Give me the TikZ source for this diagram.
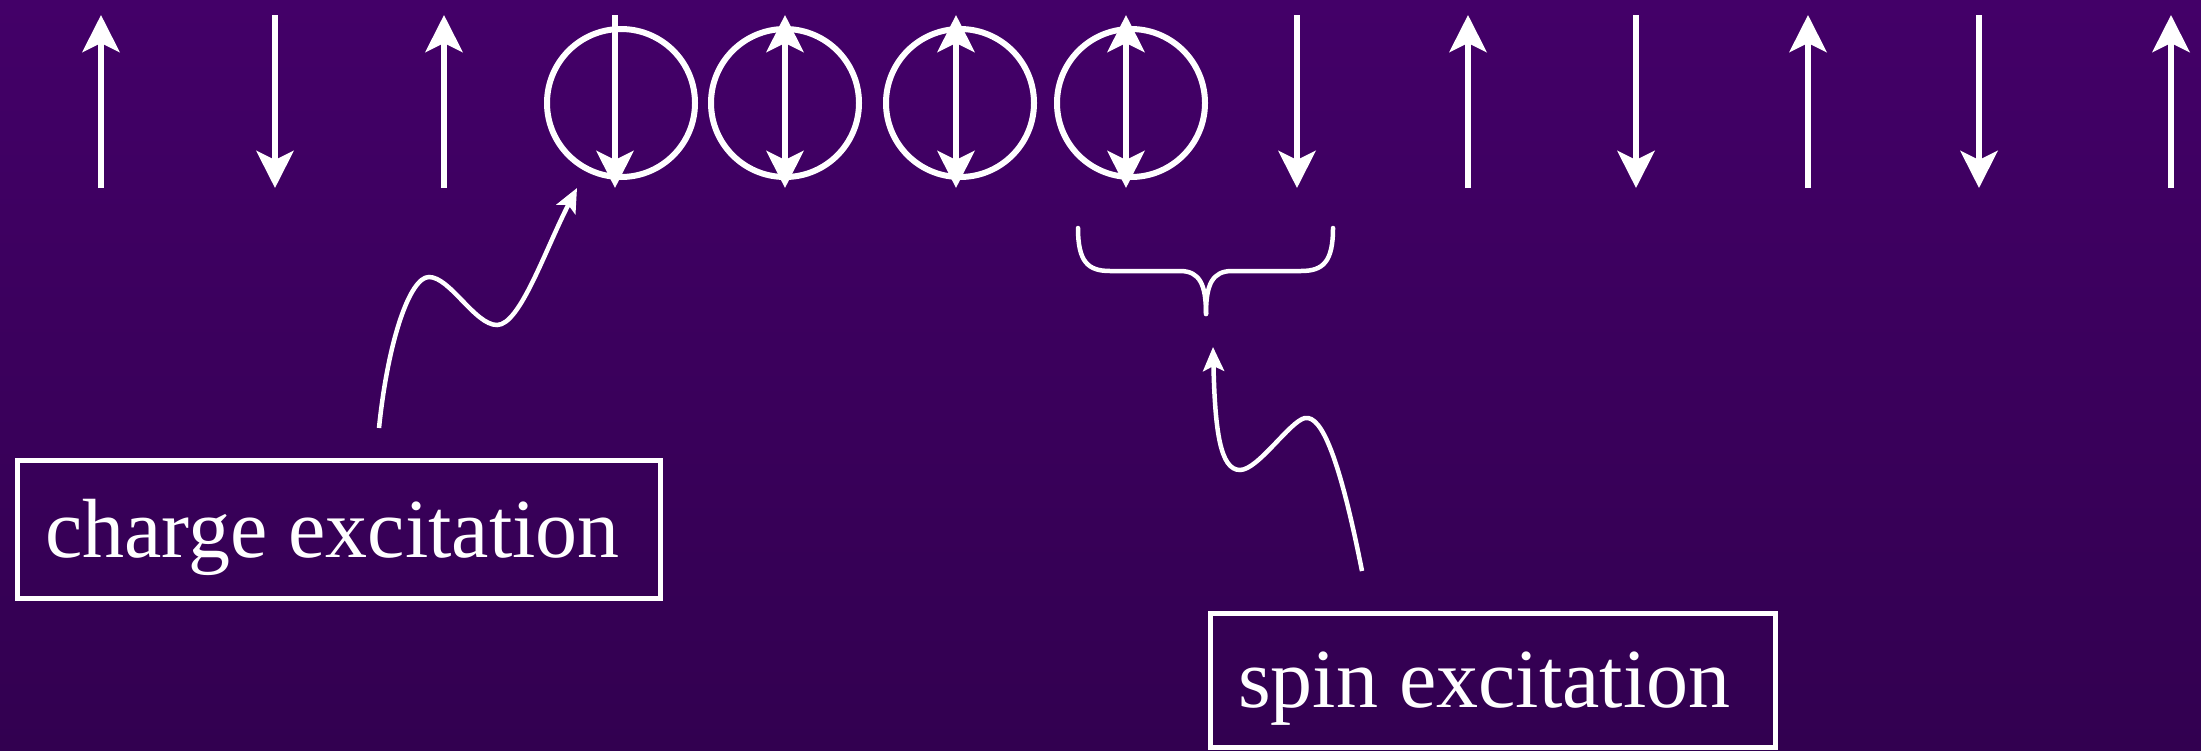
\documentclass[tikz,border=0pt]{standalone}
\usepackage{fontspec}
\setmainfont{Liberation Serif}
\usetikzlibrary{arrows.meta}
\definecolor{bgtop}{HTML}{430068}
\definecolor{bgbot}{HTML}{320050}
\begin{document}
\begin{tikzpicture}[x=1pt,y=-1pt,
  headA/.style={Stealth[length=37pt,width=37pt,inset=9pt]},
  spinup/.style={white, line width=6pt, -{Stealth[length=37pt,width=37pt,inset=9pt]}},
  dspin/.style={white, line width=6pt, {Stealth[length=37pt,width=37pt,inset=9pt]}-{Stealth[length=37pt,width=37pt,inset=9pt]}},
  site/.style={circle, draw=white, line width=6pt, minimum size=148pt, inner sep=0pt},
  box/.style={draw=white, line width=5pt, inner sep=0pt, rectangle},
  lbl/.style={text=white, font=\fontsize{84}{90}\selectfont, inner sep=0pt},
  wave/.style={white, line width=4.5pt, -{Stealth[length=24pt,width=21pt,inset=5pt]}},
  bracestyle/.style={white, line width=4.5pt, line cap=round}]
\useasboundingbox (0,0) rectangle (2201,750);
\shade[top color=bgtop, bottom color=bgbot] (0,0) rectangle (2201,750);

% lattice spins
\draw[spinup] (101,188) -- (101,15);
\draw[spinup] (275,15) -- (275,188);
\draw[spinup] (444,188) -- (444,15);
\draw[spinup] (1297,15) -- (1297,188);
\draw[spinup] (1468,188) -- (1468,15);
\draw[spinup] (1636,15) -- (1636,188);
\draw[spinup] (1808,188) -- (1808,15);
\draw[spinup] (1979,15) -- (1979,188);
\draw[spinup] (2171,188) -- (2171,15);

% sites
\node[site] (s1) at (621,103) {};
\node[site] (s2) at (785,103) {};
\node[site] (s3) at (960,103) {};
\node[site] (s4) at (1131,103) {};
\draw[spinup] (615,15) -- (615,188);
\draw[dspin] (785,15) -- (785,188);
\draw[dspin] (956,15) -- (956,188);
\draw[dspin] (1126,15) -- (1126,188);

% brace
\coordinate (bl) at (1078,228);
\coordinate (br) at (1333,228);
\coordinate (btip) at (1206,314);
\draw[bracestyle] (bl) .. controls (1078,262) and (1088,271) .. (1110,271) -- (1180,271) .. controls (1200,271) and (1206,285) .. (btip);
\draw[bracestyle] (br) .. controls (1333,262) and (1323,271) .. (1301,271) -- (1232,271) .. controls (1212,271) and (1206,285) .. (btip);

% boxes and labels
\node[box, minimum width=643pt, minimum height=138pt] (chargebox) at (338.5,529) {};
\node[lbl, anchor=base west] (charge) at (45,557) {charge excitation};
\node[box, minimum width=565pt, minimum height=134pt] (spinbox) at (1492.5,680) {};
\node[lbl, anchor=base west] (spin) at (1238,707) {spin excitation};

% wavy arrows
\coordinate (cstart) at (379,428);
\coordinate (ctip) at (577,188);
\draw[wave] (cstart) .. controls (388,340) and (410,277) .. (429,277) .. controls (450,277) and (475,325) .. (497,325) .. controls (520,325) and (545,250) .. (ctip);
\coordinate (sstart) at (1362,571);
\coordinate (stip) at (1213,347);
\draw[wave] (sstart) .. controls (1340,460) and (1322,415) .. (1305,418) .. controls (1290,421) and (1258,470) .. (1240,470) .. controls (1220,470) and (1215,430) .. (stip);
\end{tikzpicture}
\end{document}
